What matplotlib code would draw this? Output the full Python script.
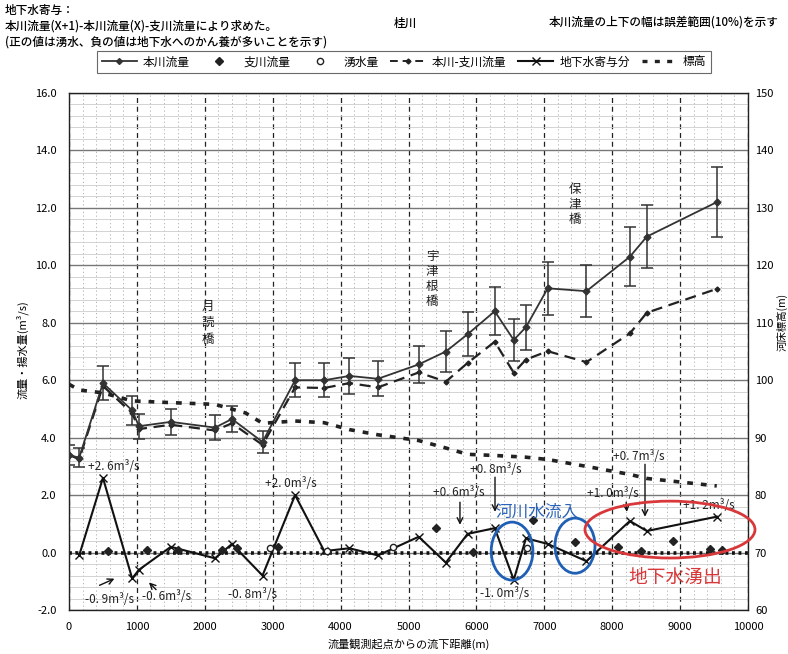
import matplotlib
matplotlib.use('Agg')
import matplotlib.pyplot as plt
from matplotlib.patches import Ellipse
from matplotlib.lines import Line2D
import numpy as np

plt.rcParams['font.family'] = ['Noto Sans CJK JP', 'DejaVu Sans']

# ---------------- data ----------------
dist_main = [0, 150, 500, 930, 1030, 1500, 2150, 2400, 2850, 3330, 3760, 4130, 4550,
             5150, 5550, 5870, 6270, 6550, 6730, 7050, 7620, 8260, 8510, 9540]
q_main = [3.4, 3.3, 5.9, 4.95, 4.4, 4.55, 4.35, 4.65, 3.85, 6.0, 6.0, 6.15, 6.05,
          6.55, 7.0, 7.6, 8.4, 7.4, 7.85, 9.2, 9.1, 10.3, 11.0, 12.2]
q_main_minus_trib = [3.4, 3.25, 5.8, 4.85, 4.3, 4.45, 4.25, 4.5, 3.75, 5.75, 5.73, 5.9, 5.75,
                     6.27, 5.95, 6.6, 7.34, 6.26, 6.72, 7.01, 6.63, 7.63, 8.35, 9.18]

dist_trib = [580, 1150, 1600, 2260, 2470, 3080, 5400, 5950, 6830, 7450, 8090, 8430, 8900, 9440, 9610]
q_trib = [0.05, 0.1, 0.1, 0.1, 0.15, 0.2, 0.85, 0.02, 1.15, 0.37, 0.18, 0.05, 0.39, 0.14, 0.1]

dist_spring = [2960, 3795, 4776, 6740]
q_spring = [0.16, 0.05, 0.18, 0.15]

dist_gw = [150, 500, 930, 1030, 1500, 2150, 2400, 2850, 3330, 3760, 4130, 4550,
           5150, 5550, 5870, 6270, 6550, 6730, 7050, 7620, 8260, 8510, 9540]
q_gw = [-0.1, 2.6, -0.9, -0.6, 0.2, -0.2, 0.3, -0.8, 2.0, 0.05, 0.15, -0.1,
        0.55, -0.35, 0.65, 0.85, -0.95, 0.5, 0.3, -0.3, 1.1, 0.75, 1.25]

dist_elev = [0, 150, 500, 930, 1500, 2150, 2600, 2850, 3330, 3760, 4130, 4550,
             5150, 5550, 5870, 6270, 6730, 7050, 7620, 8260, 8510, 9540]
elev = [99.3, 98.3, 97.8, 96.4, 96.1, 95.8, 94.3, 92.5, 92.9, 92.6, 91.4, 90.5,
        89.5, 88.2, 87.1, 86.9, 86.6, 86.2, 85.0, 83.6, 82.9, 81.6]

x_ticks = list(range(0, 10001, 1000))
y_ticks = [-2, 0, 2, 4, 6, 8, 10, 12, 14, 16]
y2_ticks = [60, 70, 80, 90, 100, 110, 120, 130, 140, 150]

# ---------------- figure ----------------
W, H = 788, 654
fig = plt.figure(figsize=(W / 100, H / 100), dpi=100)
L, R, T, B = 69, 748, 93, 610
ax = fig.add_axes([L / W, 1 - B / H, (R - L) / W, (B - T) / H])
ax.set_xlim(0, 10000)
ax.set_ylim(-2, 16)
ax.set_axisbelow(True)

ax.set_xticks(x_ticks)
ax.set_xticks(np.arange(0, 10001, 200), minor=True)
ax.set_yticks(y_ticks)
ax.set_yticks(np.arange(-2, 16.01, 0.4), minor=True)
ax.grid(which='major', axis='x', color='#222', lw=0.9, ls=(0, (4, 3)))
ax.grid(which='minor', axis='x', color='#aaa', lw=0.6, ls=(0, (1.5, 3)))
ax.grid(which='major', axis='y', color='#777', lw=1.0)
ax.grid(which='minor', axis='y', color='#ccc', lw=0.6)
ax.tick_params(which='both', length=0)
ax.tick_params(axis='y', pad=9, labelsize=8)
ax.tick_params(axis='x', pad=9, labelsize=8)
ax.set_yticklabels([f'{v:.1f}' for v in y_ticks])

for s in ax.spines.values():
    s.set_color('#222')
    s.set_linewidth(1.0)

# zero line
ax.axhline(0, color='#111', lw=2.6, ls=(0, (0.8, 1.0)), zorder=2)

# main river with 10% error bars
ax.errorbar(dist_main, q_main, yerr=0.1 * np.array(q_main), fmt='-D', color='#333',
            ms=3.5, lw=1.3, capsize=4, elinewidth=1.1, capthick=1.1, zorder=4)
# main minus tributary
ax.plot(dist_main, q_main_minus_trib, ls=(0, (5, 3)), color='#222', lw=1.6,
        marker='D', ms=2.5, zorder=3)
# tributary
ax.plot(dist_trib, q_trib, ls='none', marker='D', ms=4, color='#222', zorder=5)
# spring
ax.plot(dist_spring, q_spring, ls='none', marker='o', ms=4.5, mfc='white', mec='#222', zorder=5)
# groundwater contribution
ax.plot(dist_gw, q_gw, '-x', color='#111', lw=1.5, ms=6, mew=1.0, zorder=4)

# elevation (right axis)
ax2 = ax.twinx()
ax2.set_ylim(60, 150)
ax2.set_yticks(y2_ticks)
ax2.tick_params(length=0, pad=5, labelsize=8)
ax2.plot(dist_elev, elev, color='#222', lw=2.6, ls=(0, (1.6, 2.2)))
for s in ax2.spines.values():
    s.set_visible(False)

ax.set_xlabel('流量観測起点からの流下距離(m)', fontsize=8, labelpad=4)
fig.text(22 / W, 1 - 350 / H, '流量・揚水量(m³/s)', rotation=90, fontsize=8,
         ha='center', va='center')
fig.text(782 / W, 1 - 322 / H, '河床標高(m)', rotation=90, fontsize=7.5,
         ha='center', va='center')

# bridge labels
ann_font = dict(fontsize=9, color='#222')
ax.text(2047, 8.8, '月\n読\n橋', ha='center', va='top', linespacing=1.35, **ann_font)
ax.text(5346, 10.55, '宇\n津\n根\n橋', ha='center', va='top', linespacing=1.2, **ann_font)
ax.text(7452, 12.85, '保\n津\n橋', ha='center', va='top', linespacing=1.2, **ann_font)

# value annotations
lab = dict(fontsize=8.5, color='#222', va='center', ha='left')
ax.text(280, 3.0, '+2. 6m³/s', **lab)
ax.text(2886, 2.4, '+2. 0m³/s', **lab)
ax.text(236, -1.64, '-0. 9m³/s', **lab)
ax.text(1075, -1.53, '-0. 6m³/s', **lab)
ax.text(2342, -1.46, '-0. 8m³/s', **lab)
ax.text(5361, 2.09, '+0. 6m³/s', **lab)
ax.text(5906, 2.89, '+0. 8m³/s', **lab)
ax.text(6053, -1.43, '-1. 0m³/s', **lab)
ax.text(7629, 2.05, '+1. 0m³/s', **lab)
ax.text(8012, 3.34, '+0. 7m³/s', **lab)
ax.text(9043, 1.64, '+1. 2m³/s', **lab)

arr = dict(arrowstyle='->', color='#111', lw=1.0)
ax.annotate('', xy=(707, -0.87), xytext=(412, -1.18), arrowprops=arr)
ax.annotate('', xy=(1149, -0.97), xytext=(1311, -1.36), arrowprops=arr)
ax.annotate('', xy=(5758, 0.87), xytext=(5758, 1.85), arrowprops=arr)
ax.annotate('', xy=(6274, 1.32), xytext=(6274, 2.72), arrowprops=arr)
ax.annotate('', xy=(8218, 1.32), xytext=(8203, 1.85), arrowprops=arr)
ax.annotate('', xy=(8483, 1.15), xytext=(8483, 3.17), arrowprops=arr)

# ellipses
ax.add_patch(Ellipse((6525, 0.05), 614, 2.02, fill=False, ec='#1f5fb4', lw=2.0, zorder=6))
ax.add_patch(Ellipse((7452, 0.24), 589, 1.92, fill=False, ec='#1f5fb4', lw=2.0, zorder=6))
ax.add_patch(Ellipse((8851, 0.8), 2504, 1.98, fill=False, ec='#d9383a', lw=2.0,
                     zorder=6, clip_on=False))
ax.text(6274, 1.39, '河川水流入', color='#2a63b8', fontsize=12, ha='left', va='center', zorder=7)
ax.text(8233, -0.87, '地下水湧出', color='#d9383a', fontsize=13.5, ha='left', va='center', zorder=7)

# header texts
hdr = dict(fontsize=8.4, va='center', fontweight='medium')
fig.text(5 / W, 1 - 10 / H, '地下水寄与：', **hdr)
fig.text(5 / W, 1 - 26 / H, '本川流量(X+1)-本川流量(X)-支川流量により求めた。', **hdr)
fig.text(5 / W, 1 - 42 / H, '(正の値は湧水、負の値は地下水へのかん養が多いことを示す)', **hdr)
fig.text(405 / W, 1 - 23 / H, '桂川', ha='center', **hdr)
fig.text(779 / W, 1 - 22 / H, '本川流量の上下の幅は誤差範囲(10%)を示す', ha='right', **hdr)

# legend
handles = [
    Line2D([], [], color='#333', lw=1.3, marker='D', ms=3),
    Line2D([], [], ls='none', color='#222', marker='D', ms=4),
    Line2D([], [], ls='none', marker='o', ms=4.5, mfc='white', mec='#222'),
    Line2D([], [], color='#222', lw=1.4, ls=(0, (4, 2.5)), marker='D', ms=2.5),
    Line2D([], [], color='#111', lw=1.5, marker='x', ms=6),
    Line2D([], [], color='#222', lw=2.4, ls=(0, (1.5, 2.2))),
]
labels = ['本川流量', '支川流量', '湧水量', '本川-支川流量', '地下水寄与分', '標高']
leg = fig.legend(handles, labels, loc='center', bbox_to_anchor=(404 / W, 1 - 62 / H),
                 ncol=6, fontsize=8.5, frameon=True, fancybox=False, edgecolor='#444',
                 handlelength=3.0, columnspacing=1.0, handletextpad=0.5,
                 borderpad=0.35)
leg.get_frame().set_linewidth(0.8)

fig.savefig('out.png', dpi=100)
